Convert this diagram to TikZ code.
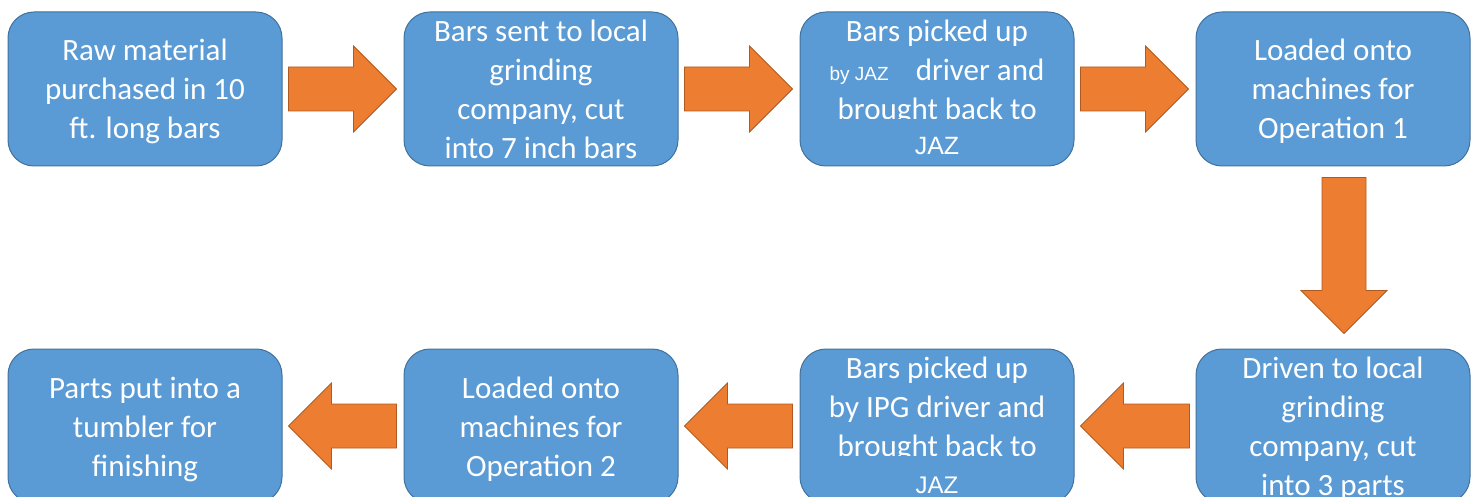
\documentclass[tikz,border=0pt]{standalone}
\usepackage{fontspec}
\setmainfont{Carlito}
\newfontfamily\arialfont{Liberation Sans}
\usepackage{tikz}
\usetikzlibrary{calc}
\definecolor{boxblue}{HTML}{5B9BD5}
\definecolor{boxline}{HTML}{41719C}
\definecolor{arroworange}{HTML}{ED7D31}
\definecolor{arrowline}{HTML}{AE5A21}
\tikzset{stage/.style={draw=boxline,fill=boxblue,line width=1pt,rounded corners=26pt,
  minimum width=274pt,minimum height=154pt,inner sep=0pt,align=center,text=white,
  font=\fontsize{31}{39}\selectfont}}
\tikzset{fatarrow/.style={draw=arrowline,fill=arroworange,line width=0.8pt}}
\newcommand{\pad}{\rule[-7pt]{0pt}{36pt}}
\newlength\cutw
\newcommand{\cutline}[1]{\settowidth{\cutw}{#1}\tikz[baseline=0pt,sharp corners]{\clip (-3pt,0.8pt) rectangle ({\cutw+3pt},25pt);
  \node[anchor=base west,inner sep=0pt,minimum width=0pt,minimum height=0pt,draw=none,fill=none,
    align=left,text=white] at (0pt,0pt) {#1};}}
\newcommand{\flowarrow}[2]{%
  \path #1 coordinate (fa-s) #2 coordinate (fa-e) ($(fa-e)!43pt!(fa-s)$) coordinate (fa-h);
  \filldraw[fatarrow] ($(fa-s)!22pt!90:(fa-e)$) -- ($(fa-h)!22pt!-90:(fa-s)$) -- ($(fa-h)!43pt!-90:(fa-s)$)
    -- (fa-e) -- ($(fa-h)!43pt!90:(fa-s)$) -- ($(fa-h)!22pt!90:(fa-s)$) -- ($(fa-s)!22pt!-90:(fa-e)$) -- cycle;}

\begin{document}
\begin{tikzpicture}[x=1pt,y=-1pt]
\useasboundingbox (0,0) rectangle (1478,497);
\clip (0,0) rectangle (1478,497);
\node[stage] (raw) at (145,89) {\pad Raw material\\purchased in 10\\ft. long bars\pad};
\node[stage] (sent) at (541,89) {\pad Bars sent to local\\grinding\\company, cut\\into 7 inch bars\pad};
\node[stage] (pickjaz) at (937,89) {\pad Bars picked up\\{\arialfont\fontsize{19}{39}\selectfont by JAZ}\hspace{27pt}driver and\\\cutline{brought back to}\\\raisebox{4pt}{\arialfont\fontsize{25}{39}\selectfont JAZ}\pad};
\node[stage] (op1) at (1333,89) {\pad Loaded onto\\machines for\\Operation 1\pad};
\node[stage] (drive) at (1333,426) {\pad Driven to local\\grinding\\company, cut\\into 3 parts\pad};
\node[stage] (pickipg) at (937,426) {\pad Bars picked up\\by IPG driver and\\\cutline{brought back to}\\\raisebox{2pt}{\arialfont\fontsize{24}{39}\selectfont JAZ}\pad};
\node[stage] (op2) at (541,426) {\pad Loaded onto\\machines for\\Operation 2\pad};
\node[stage] (tumbler) at (145,426) {\pad Parts put into a\\tumbler for\\finishing\pad};
\flowarrow{($(raw.east)+(6,0)$)}{($(sent.west)+(-7,0)$)}
\flowarrow{($(sent.east)+(6,0)$)}{($(pickjaz.west)+(-7,0)$)}
\flowarrow{($(pickjaz.east)+(6,0)$)}{($(op1.west)+(-7,0)$)}
\flowarrow{($(op1.south)+(11,11)$)}{($(drive.north)+(11,-15)$)}
\flowarrow{($(drive.west)+(-6,0)$)}{($(pickipg.east)+(6,0)$)}
\flowarrow{($(pickipg.west)+(-7,0)$)}{($(op2.east)+(6,0)$)}
\flowarrow{($(op2.west)+(-7,0)$)}{($(tumbler.east)+(6,0)$)}
\end{tikzpicture}
\end{document}
